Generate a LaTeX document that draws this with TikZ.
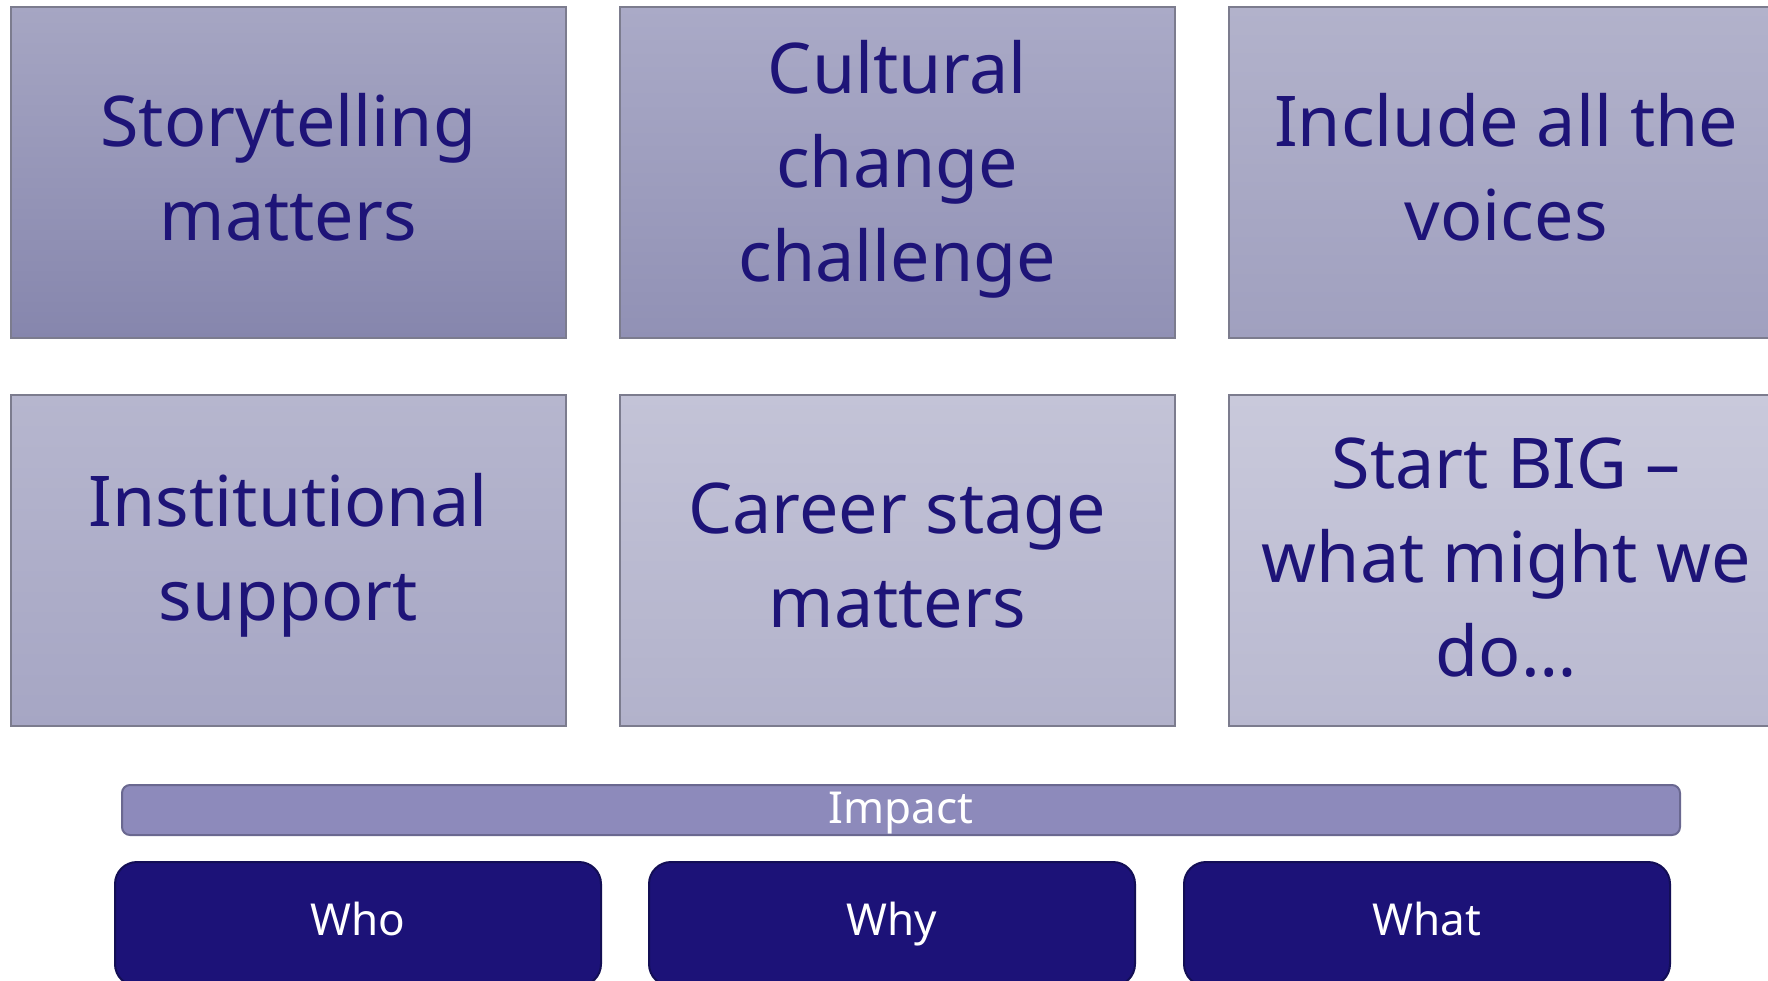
\documentclass[tikz,border=0pt]{standalone}
\usepackage{fontspec}
\setmainfont{Noto Sans}
\definecolor{txtnavy}{HTML}{1E1478}
\definecolor{boxline}{HTML}{7C7C8E}
\definecolor{impfill}{HTML}{8D8ABB}
\definecolor{impline}{HTML}{6A6890}
\definecolor{btnfill}{HTML}{1C1278}
\definecolor{btnline}{HTML}{130E55}
\tikzset{
  tile/.style={draw=boxline, line width=1.5pt, anchor=north west,
    minimum width=555pt, minimum height=331pt, inner sep=0pt},
  tiletext/.style={align=center, text=txtnavy, inner sep=0pt,
    font=\fontsize{70}{94}\selectfont},
  impbar/.style={draw=impline, line width=2pt, fill=impfill, rounded corners=8pt,
    anchor=north west, minimum width=1558pt, minimum height=50pt, inner sep=0pt},
  btn/.style={draw=btnline, line width=2pt, fill=btnfill, rounded corners=22pt,
    anchor=north west, minimum width=486pt, minimum height=124pt, inner sep=0pt},
  wtext/.style={text=white, inner sep=0pt, text height=31pt, text depth=0pt,
    font=\fontsize{44}{50}\selectfont},
}
\begin{document}
\begin{tikzpicture}[x=1pt,y=-1pt]
\useasboundingbox (0,0) rectangle (1768,980);
\clip (0,0) rectangle (1768,980);
\fill[white] (0,0) rectangle (1768,980);
% row 1
\node[tile, top color={rgb,255:red,166;green,166;blue,195}, bottom color={rgb,255:red,134;green,134;blue,173}] (b1) at (10,6) {};
\node[tile, top color={rgb,255:red,170;green,170;blue,199}, bottom color={rgb,255:red,145;green,145;blue,181}] (b2) at (619,6) {};
\node[tile, top color={rgb,255:red,178;green,178;blue,203}, bottom color={rgb,255:red,160;green,160;blue,191}] (b3) at (1228,6) {};
% row 2
\node[tile, top color={rgb,255:red,182;green,182;blue,206}, bottom color={rgb,255:red,166;green,166;blue,196}] (b4) at (10,394) {};
\node[tile, top color={rgb,255:red,195;green,195;blue,215}, bottom color={rgb,255:red,178;green,178;blue,203}] (b5) at (619,394) {};
\node[tile, top color={rgb,255:red,201;green,201;blue,219}, bottom color={rgb,255:red,185;green,185;blue,208}] (b6) at (1228,394) {};
\node[tiletext] (t1) at ([yshift=5pt]b1.center) {Storytelling\\matters};
\node[tiletext] (t2) at ([yshift=3pt]b2.center) {Cultural\\change\\challenge};
\node[tiletext] (t3) at ([yshift=5pt]b3.center) {Include all the\\voices};
\node[tiletext] (t4) at ([yshift=5pt]b4.center) {Institutional\\support};
\node[tiletext] (t5) at ([yshift=5pt]b5.center) {Career stage\\matters};
\node[tiletext] (t6) at ([yshift=3pt]b6.center) {Start BIG –\\what might we\\do…};
% impact
\node[impbar] (imp) at (121,784) {};
\node[wtext] (impt) at ([yshift=2pt]imp.center) {Impact};
% buttons
\node[btn] (who) at (114,861) {};
\node[btn] (why) at (648,861) {};
\node[btn] (what) at (1183,861) {};
\node[wtext] (whot) at ([yshift=4pt]who.center) {Who};
\node[wtext] (whyt) at ([yshift=4pt]why.center) {Why};
\node[wtext] (whatt) at ([yshift=4pt]what.center) {What};
\end{tikzpicture}
\end{document}
